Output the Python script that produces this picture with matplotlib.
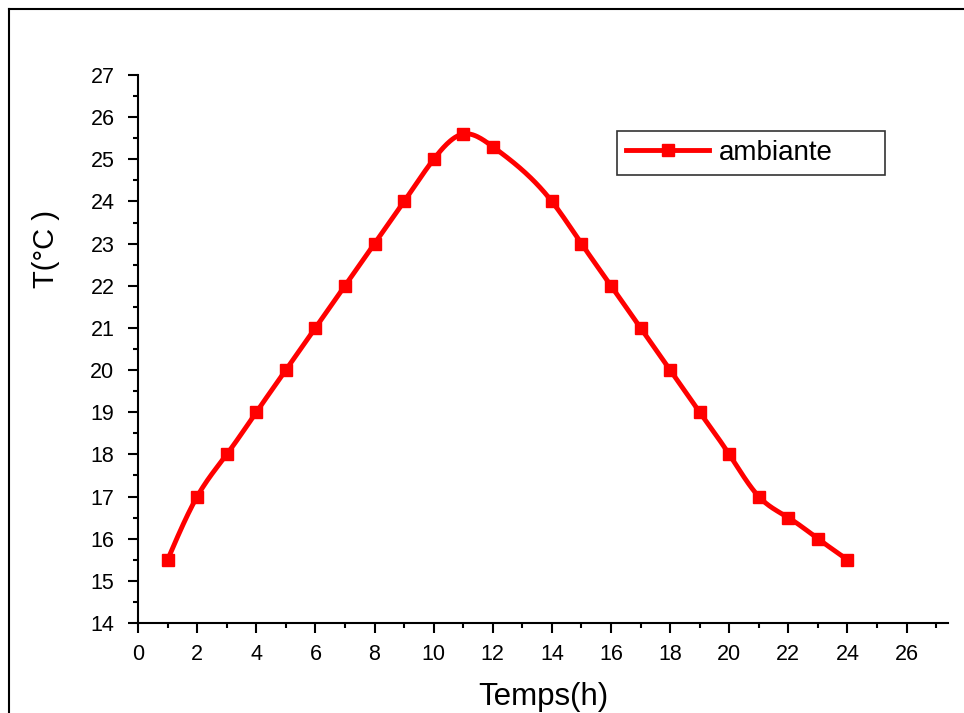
import numpy as np
import matplotlib
matplotlib.use("Agg")
import matplotlib.pyplot as plt
from matplotlib.ticker import MultipleLocator
from matplotlib.lines import Line2D

plt.rcParams['font.family'] = ['Liberation Sans', 'DejaVu Sans']

hours = [1, 2, 3, 4, 5, 6, 7, 8, 9, 10, 11, 12, 14, 15, 16, 17, 18, 19, 20, 21, 22, 23, 24]
temps = [15.5, 17, 18, 19, 20, 21, 22, 23, 24, 25, 25.6, 25.3, 24, 23, 22, 21, 20, 19, 18, 17, 16.5, 16, 15.5]
series_name = "ambiante"
x_label = "Temps(h)"
y_label = "T(°C )"


def natural_spline(x, y, n=600):
    x = np.asarray(x, float); y = np.asarray(y, float)
    k = len(x); h = np.diff(x)
    A = np.zeros((k, k)); b = np.zeros(k)
    A[0, 0] = 1; A[-1, -1] = 1
    for i in range(1, k - 1):
        A[i, i - 1] = h[i - 1]; A[i, i] = 2 * (h[i - 1] + h[i]); A[i, i + 1] = h[i]
        b[i] = 6 * ((y[i + 1] - y[i]) / h[i] - (y[i] - y[i - 1]) / h[i - 1])
    M = np.linalg.solve(A, b)
    xs = np.linspace(x[0], x[-1], n)
    idx = np.clip(np.searchsorted(x, xs) - 1, 0, k - 2)
    x0 = x[idx]; x1 = x[idx + 1]; hh = x1 - x0
    ys = (M[idx] * (x1 - xs) ** 3 / (6 * hh) + M[idx + 1] * (xs - x0) ** 3 / (6 * hh)
          + (y[idx] / hh - M[idx] * hh / 6) * (x1 - xs)
          + (y[idx + 1] / hh - M[idx + 1] * hh / 6) * (xs - x0))
    return xs, ys


fig = plt.figure(figsize=(9.64, 7.13), dpi=100)
ax = fig.add_axes([0.1432, 0.1262, 0.8402, 0.7686])

xs, ys = natural_spline(hours, temps)
ax.plot(xs, ys, color='#ff0000', lw=3.5, zorder=2)
ax.plot(hours, temps, 's', color='#ff0000', ms=9, zorder=3)

ax.set_xlim(0, 27.4)
ax.set_ylim(14, 27)
ax.xaxis.set_major_locator(MultipleLocator(2))
ax.xaxis.set_minor_locator(MultipleLocator(1))
ax.yaxis.set_major_locator(MultipleLocator(1))
ax.yaxis.set_minor_locator(MultipleLocator(0.5))
for s in ['top', 'right']:
    ax.spines[s].set_visible(False)
for s in ['left', 'bottom']:
    ax.spines[s].set_linewidth(1.5)
ax.tick_params(which='major', length=7, width=1.5, direction='out', labelsize=15.5, colors='black')
ax.tick_params(which='minor', length=3.8, width=1.5, direction='out')
ax.tick_params(axis='x', pad=8)
ax.tick_params(axis='y', pad=10)

ax.set_xlabel(x_label, fontsize=22.5, labelpad=12)
ax.set_ylabel(y_label, fontsize=21)
ax.yaxis.set_label_coords(-0.096, 0.6825)
ax.xaxis.set_label_coords(0.5, -0.108)

handle = Line2D([], [], color='#ff0000', lw=3.5, marker='s', ms=9)
leg = ax.legend([handle], [series_name], loc='upper left',
                bbox_to_anchor=(0.5914, 0.8175, 0.3309, 0.0803), mode='expand',
                fontsize=20, frameon=True, fancybox=False, handlelength=3.0,
                borderpad=0.32, handletextpad=0.36, borderaxespad=0)
leg.get_frame().set_edgecolor('black')
leg.get_frame().set_linewidth(1.2)

# outer frame (top and left edges visible)
fig.add_artist(Line2D([9 / 964, 1.0], [1 - 9 / 713, 1 - 9 / 713], color='black', lw=1.5,
                      transform=fig.transFigure))
fig.add_artist(Line2D([9 / 964, 9 / 964], [1 - 9 / 713, 0.0], color='black', lw=1.5,
                      transform=fig.transFigure))

fig.savefig('out.png', dpi=100)
